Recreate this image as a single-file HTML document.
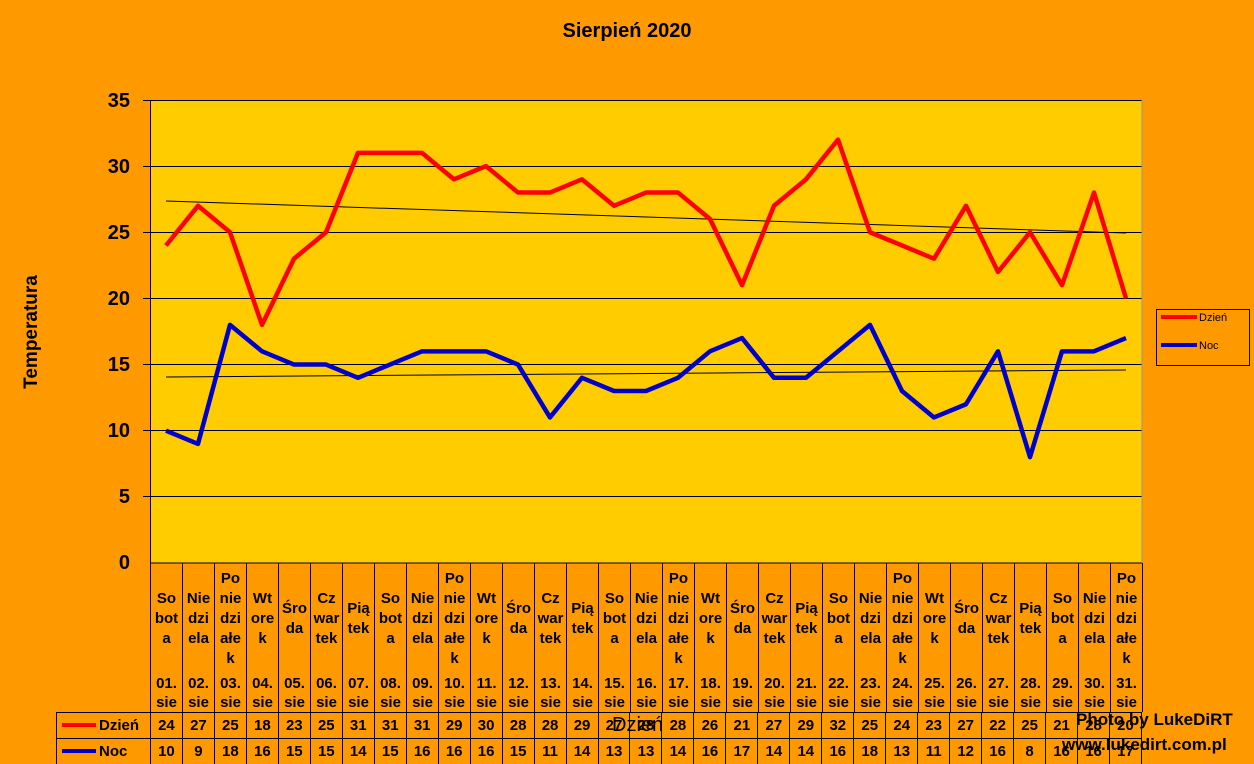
<!DOCTYPE html>
<html><head><meta charset="utf-8"><style>
body{margin:0;width:1254px;height:764px;background:#FF9900;position:relative;overflow:hidden;font-family:"Liberation Sans",sans-serif;font-weight:bold;color:#000}
.a{position:absolute}
.cols{position:absolute;left:150px;top:563px;display:flex;height:149px;border-left:1px solid #000}
.c{width:31px;border-right:1px solid #000;display:flex;flex-direction:column;align-items:center;font-size:15px;line-height:20px;text-align:center}
.c .n{height:112px;display:flex;align-items:center;justify-content:center;padding-top:0px}
.c .d{line-height:19px}
.rows{position:absolute;left:56px;width:1086px;height:52px;top:712px}
.r{display:flex;height:25px;border-top:1px solid #000;border-left:1px solid #000;font-size:15px;line-height:25px}
.r div{width:31px;border-right:1px solid #000;text-align:center}
.r .h{width:51px;text-align:left;padding-left:42px}
.yl{position:absolute;left:90px;width:40px;text-align:right;font-size:20px}
</style></head><body>
<div class="a" style="left:0;width:1254px;top:20px;text-align:center;font-size:20px">Sierpień 2020</div>
<div class="a" style="left:32px;top:332px;transform:translate(-50%,-50%) rotate(-90deg);font-size:19px;white-space:nowrap">Temperatura</div>
<div class="yl" style="top:90px">35</div><div class="yl" style="top:156px">30</div><div class="yl" style="top:222px">25</div><div class="yl" style="top:288px">20</div><div class="yl" style="top:354px">15</div><div class="yl" style="top:420px">10</div><div class="yl" style="top:486px">5</div><div class="yl" style="top:552px">0</div>
<svg class="a" style="left:0;top:0" width="1254" height="764">
<rect x="150" y="100" width="992" height="463" fill="#FFCC00"/>
<g stroke="#000" stroke-width="1">
<line x1="150" x2="1142" y1="100.5" y2="100.5"/><line x1="150" x2="1142" y1="166.5" y2="166.5"/><line x1="150" x2="1142" y1="232.5" y2="232.5"/><line x1="150" x2="1142" y1="298.5" y2="298.5"/><line x1="150" x2="1142" y1="364.5" y2="364.5"/><line x1="150" x2="1142" y1="430.5" y2="430.5"/><line x1="150" x2="1142" y1="496.5" y2="496.5"/><line x1="150" x2="1142" y1="563" y2="563"/>
<line x1="150.5" x2="150.5" y1="100" y2="563"/><line x1="1142" x2="1142" y1="100" y2="563" stroke="#999"/>
<line x1="143" x2="150" y1="100.5" y2="100.5"/><line x1="143" x2="150" y1="166.5" y2="166.5"/><line x1="143" x2="150" y1="232.5" y2="232.5"/><line x1="143" x2="150" y1="298.5" y2="298.5"/><line x1="143" x2="150" y1="364.5" y2="364.5"/><line x1="143" x2="150" y1="430.5" y2="430.5"/><line x1="143" x2="150" y1="496.5" y2="496.5"/>
<line x1="166" y1="201" x2="1126" y2="233"/><line x1="166" y1="377" x2="1126" y2="370"/>
</g>
<g transform="translate(166,563) scale(32,-13.23)" fill="none" stroke-width="4.5" stroke-linejoin="round">
<polyline vector-effect="non-scaling-stroke" stroke="#FF0000" points="0,24 1,27 2,25 3,18 4,23 5,25 6,31 7,31 8,31 9,29 10,30 11,28 12,28 13,29 14,27 15,28 16,28 17,26 18,21 19,27 20,29 21,32 22,25 23,24 24,23 25,27 26,22 27,25 28,21 29,28 30,20"/>
<polyline vector-effect="non-scaling-stroke" stroke="#0000CC" points="0,10 1,9 2,18 3,16 4,15 5,15 6,14 7,15 8,16 9,16 10,16 11,15 12,11 13,14 14,13 15,13 16,14 17,16 18,17 19,14 20,14 21,16 22,18 23,13 24,11 25,12 26,16 27,8 28,16 29,16 30,17"/>
</g>
<rect x="1156.5" y="309.5" width="93" height="56" fill="none" stroke="#000"/>
<line x1="1161" x2="1197" y1="317" y2="317" stroke="#FF0000" stroke-width="4"/>
<line x1="1161" x2="1197" y1="345" y2="345" stroke="#0000CC" stroke-width="4"/>
<text x="1199" y="321" font-size="11" font-family="Liberation Sans" font-weight="normal">Dzień</text>
<text x="1199" y="349" font-size="11" font-family="Liberation Sans" font-weight="normal">Noc</text>
<line x1="62" x2="96" y1="725" y2="725" stroke="#FF0000" stroke-width="4"/>
<line x1="62" x2="96" y1="751" y2="751" stroke="#0000CC" stroke-width="4"/>
</svg>
<div class="cols">
<div class="c"><div class="n">So<br>bot<br>a</div><div class="d">01.<br>sie</div></div>
<div class="c"><div class="n">Nie<br>dzi<br>ela</div><div class="d">02.<br>sie</div></div>
<div class="c"><div class="n">Po<br>nie<br>dzi<br>ałe<br>k</div><div class="d">03.<br>sie</div></div>
<div class="c"><div class="n">Wt<br>ore<br>k</div><div class="d">04.<br>sie</div></div>
<div class="c"><div class="n">Śro<br>da</div><div class="d">05.<br>sie</div></div>
<div class="c"><div class="n">Cz<br>war<br>tek</div><div class="d">06.<br>sie</div></div>
<div class="c"><div class="n">Pią<br>tek</div><div class="d">07.<br>sie</div></div>
<div class="c"><div class="n">So<br>bot<br>a</div><div class="d">08.<br>sie</div></div>
<div class="c"><div class="n">Nie<br>dzi<br>ela</div><div class="d">09.<br>sie</div></div>
<div class="c"><div class="n">Po<br>nie<br>dzi<br>ałe<br>k</div><div class="d">10.<br>sie</div></div>
<div class="c"><div class="n">Wt<br>ore<br>k</div><div class="d">11.<br>sie</div></div>
<div class="c"><div class="n">Śro<br>da</div><div class="d">12.<br>sie</div></div>
<div class="c"><div class="n">Cz<br>war<br>tek</div><div class="d">13.<br>sie</div></div>
<div class="c"><div class="n">Pią<br>tek</div><div class="d">14.<br>sie</div></div>
<div class="c"><div class="n">So<br>bot<br>a</div><div class="d">15.<br>sie</div></div>
<div class="c"><div class="n">Nie<br>dzi<br>ela</div><div class="d">16.<br>sie</div></div>
<div class="c"><div class="n">Po<br>nie<br>dzi<br>ałe<br>k</div><div class="d">17.<br>sie</div></div>
<div class="c"><div class="n">Wt<br>ore<br>k</div><div class="d">18.<br>sie</div></div>
<div class="c"><div class="n">Śro<br>da</div><div class="d">19.<br>sie</div></div>
<div class="c"><div class="n">Cz<br>war<br>tek</div><div class="d">20.<br>sie</div></div>
<div class="c"><div class="n">Pią<br>tek</div><div class="d">21.<br>sie</div></div>
<div class="c"><div class="n">So<br>bot<br>a</div><div class="d">22.<br>sie</div></div>
<div class="c"><div class="n">Nie<br>dzi<br>ela</div><div class="d">23.<br>sie</div></div>
<div class="c"><div class="n">Po<br>nie<br>dzi<br>ałe<br>k</div><div class="d">24.<br>sie</div></div>
<div class="c"><div class="n">Wt<br>ore<br>k</div><div class="d">25.<br>sie</div></div>
<div class="c"><div class="n">Śro<br>da</div><div class="d">26.<br>sie</div></div>
<div class="c"><div class="n">Cz<br>war<br>tek</div><div class="d">27.<br>sie</div></div>
<div class="c"><div class="n">Pią<br>tek</div><div class="d">28.<br>sie</div></div>
<div class="c"><div class="n">So<br>bot<br>a</div><div class="d">29.<br>sie</div></div>
<div class="c"><div class="n">Nie<br>dzi<br>ela</div><div class="d">30.<br>sie</div></div>
<div class="c"><div class="n">Po<br>nie<br>dzi<br>ałe<br>k</div><div class="d">31.<br>sie</div></div>
</div>
<div class="rows">
<div class="r"><div class="h">Dzień</div><div>24</div><div>27</div><div>25</div><div>18</div><div>23</div><div>25</div><div>31</div><div>31</div><div>31</div><div>29</div><div>30</div><div>28</div><div>28</div><div>29</div><div>27</div><div>28</div><div>28</div><div>26</div><div>21</div><div>27</div><div>29</div><div>32</div><div>25</div><div>24</div><div>23</div><div>27</div><div>22</div><div>25</div><div>21</div><div>28</div><div>20</div></div>
<div class="r"><div class="h">Noc</div><div>10</div><div>9</div><div>18</div><div>16</div><div>15</div><div>15</div><div>14</div><div>15</div><div>16</div><div>16</div><div>16</div><div>15</div><div>11</div><div>14</div><div>13</div><div>13</div><div>14</div><div>16</div><div>17</div><div>14</div><div>14</div><div>16</div><div>18</div><div>13</div><div>11</div><div>12</div><div>16</div><div>8</div><div>16</div><div>16</div><div>17</div></div>
</div>
<div class="a" style="left:612px;top:714px;font-size:20px;font-weight:normal">Dzień</div>
<div class="a" style="left:1076px;top:710px;font-size:17px">Photo by LukeDiRT</div>
<div class="a" style="left:1062px;top:735px;font-size:17px">www.lukedirt.com.pl</div>
</body></html>
